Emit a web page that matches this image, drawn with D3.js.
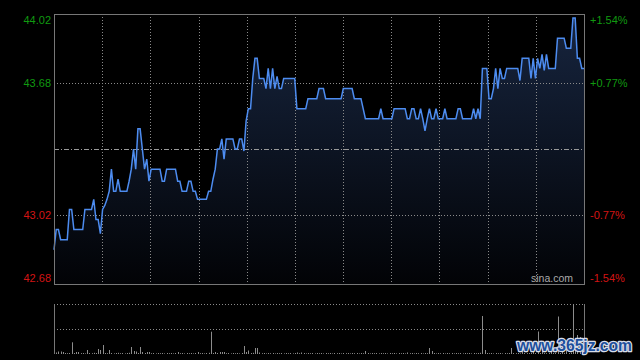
<!DOCTYPE html>
<html>
	<head>
		<meta charset="utf-8">
		<title></title>
		<style type="text/css">
			body{
				margin: 0;
				background-color: #000;
			}
			svg{
				display: block;
			}
		</style>
	</head>
	<body>
		<div id="chart"></div>
		<script src="https://d3js.org/d3.v7.min.js"></script>
		<script>
		// minute prices, 9:30 - 15:00 (241 points)
		let prices=[
			42.85,42.95,42.95,42.90,42.90,42.90,42.90,43.05,43.05,42.95,42.95,42.95,42.95,42.95,43.05,43.05,43.05,43.05,43.10,43.00,
			43.00,42.93,43.05,43.07,43.10,43.14,43.25,43.14,43.14,43.20,43.14,43.14,43.14,43.14,43.19,43.25,43.35,43.25,43.45,43.45,
			43.35,43.25,43.30,43.19,43.25,43.25,43.25,43.25,43.25,43.19,43.19,43.25,43.25,43.25,43.25,43.25,43.19,43.19,43.14,43.14,
			43.14,43.19,43.19,43.14,43.14,43.10,43.10,43.10,43.10,43.10,43.14,43.14,43.20,43.25,43.35,43.35,43.40,43.30,43.40,43.40,
			43.40,43.40,43.35,43.35,43.40,43.40,43.34,43.49,43.55,43.55,43.70,43.80,43.80,43.70,43.70,43.70,43.65,43.75,43.65,43.75,
			43.65,43.71,43.65,43.65,43.70,43.70,43.70,43.70,43.70,43.70,43.55,43.55,43.55,43.55,43.55,43.60,43.60,43.60,43.60,43.60,
			43.65,43.65,43.65,43.60,43.60,43.60,43.60,43.60,43.60,43.60,43.60,43.65,43.65,43.65,43.65,43.65,43.60,43.60,43.60,43.60,
			43.55,43.50,43.50,43.50,43.50,43.50,43.50,43.50,43.55,43.50,43.50,43.50,43.50,43.50,43.55,43.55,43.55,43.55,43.55,43.55,
			43.50,43.50,43.55,43.55,43.50,43.50,43.55,43.50,43.44,43.50,43.55,43.50,43.50,43.55,43.50,43.50,43.50,43.55,43.50,43.50,
			43.50,43.50,43.50,43.55,43.55,43.50,43.50,43.50,43.50,43.50,43.55,43.50,43.55,43.50,43.75,43.75,43.75,43.60,43.60,43.65,
			43.75,43.65,43.75,43.70,43.70,43.75,43.75,43.75,43.75,43.75,43.75,43.69,43.80,43.80,43.80,43.80,43.70,43.80,43.70,43.80,
			43.75,43.82,43.74,43.82,43.75,43.75,43.75,43.75,43.90,43.90,43.90,43.90,43.85,43.85,43.85,44.00,44.00,43.80,43.80,43.75,
			43.75
		];
		// minute volumes (lots)
		let volumes=[
			100,150,250,250,200,100,80,100,1170,100,200,200,90,100,60,400,100,80,120,100,
			500,400,900,100,80,400,100,60,100,120,80,100,60,100,120,700,300,250,100,700,
			200,100,200,200,80,100,60,100,80,100,60,100,80,100,60,100,200,80,100,60,
			100,80,100,60,100,200,80,100,60,100,120,2230,100,200,100,200,200,200,80,100,
			60,100,80,100,60,100,800,200,350,100,120,600,600,150,80,100,60,100,80,100,
			60,100,80,100,60,100,80,100,60,100,150,80,150,100,60,100,80,100,60,100,
			80,100,60,100,80,100,60,100,80,100,60,100,80,100,60,100,80,100,60,100,
			80,300,100,60,100,80,100,60,100,80,100,60,100,80,100,60,100,80,100,60,
			150,80,100,60,100,80,100,60,100,80,600,300,100,60,100,80,100,60,100,80,
			100,60,100,80,100,60,100,80,100,60,100,80,100,120,3800,400,100,80,100,60,
			100,80,100,60,100,80,100,600,100,80,100,60,500,100,80,100,120,800,100,2250,
			100,600,100,80,100,400,100,120,3750,100,600,120,500,100,150,5000,800,1900,1700,600,
			1200
		];
		let prevClose=43.35;
		let priceTicks=[44.02,43.68,43.02,42.68];
		let leftLabels=["44.02","43.68","43.02","42.68"];
		let rightLabels=["+1.54%","+0.77%","-0.77%","-1.54%"];

		let w=640,h=360;
		let pLeft=54,pRight=584,pTop=14,pBottom=284;
		let vTop=304,vBottom=354;

		let svg=d3.select("#chart").append("svg")
			.attr("width",w)
			.attr("height",h);

		let x=d3.scaleLinear().domain([0,prices.length-1]).range([pLeft,pRight]);
		let y=d3.scaleLinear().domain([42.68,44.02]).range([pBottom,pTop]);
		let yv=d3.scaleLinear().domain([0,d3.max(volumes)]).range([vBottom,vTop]);
		let gx=d3.scaleLinear().domain([0,11]).range([pLeft,pRight]);

		let grad=svg.append("defs").append("linearGradient")
			.attr("id","fillGrad")
			.attr("gradientUnits","userSpaceOnUse")
			.attr("x1",0).attr("y1",pTop).attr("x2",0).attr("y2",pBottom);
		grad.append("stop").attr("offset","0%").attr("stop-color","#17253f");
		grad.append("stop").attr("offset","100%").attr("stop-color","#020306");

		// area under price line
		let area=d3.area()
			.x(function(d,i){ return x(i); })
			.y0(pBottom)
			.y1(function(d){ return y(d); });
		svg.append("path")
			.datum(prices)
			.attr("d",area)
			.attr("fill","url(#fillGrad)");

		// grid
		svg.selectAll("line.vgrid")
			.data(d3.range(1,11))
			.enter()
			.append("line")
			.attr("class","vgrid")
			.attr("x1",function(d){ return Math.round(gx(d))+0.5; })
			.attr("x2",function(d){ return Math.round(gx(d))+0.5; })
			.attr("y1",pTop).attr("y2",pBottom)
			.attr("stroke","#8a8a8a")
			.attr("stroke-dasharray","1,2");
		svg.selectAll("line.hgrid")
			.data([43.68,43.02])
			.enter()
			.append("line")
			.attr("class","hgrid")
			.attr("x1",pLeft).attr("x2",pRight)
			.attr("y1",function(d){ return Math.round(y(d))+0.5; })
			.attr("y2",function(d){ return Math.round(y(d))+0.5; })
			.attr("stroke","#8a8a8a")
			.attr("stroke-dasharray","1,2");
		svg.append("line")
			.attr("x1",pLeft).attr("x2",pRight)
			.attr("y1",Math.round(y(prevClose))+0.5)
			.attr("y2",Math.round(y(prevClose))+0.5)
			.attr("stroke","#9a9a9a")
			.attr("stroke-dasharray","5,2,1,2");

		// price line
		let line=d3.line()
			.x(function(d,i){ return x(i); })
			.y(function(d){ return y(d); });
		svg.append("path")
			.datum(prices)
			.attr("d",line)
			.attr("fill","none")
			.attr("stroke","#4d8cf0")
			.attr("stroke-width",1.5);

		svg.append("rect")
			.attr("x",pLeft+0.5).attr("y",pTop+0.5)
			.attr("width",pRight-pLeft).attr("height",pBottom-pTop)
			.attr("fill","none")
			.attr("stroke","#777");

		// axis labels
		let lblY=function(i){
			let p=y(priceTicks[i]);
			if(i==0) return p+10;
			if(i==priceTicks.length-1) return p-2;
			return p+4;
		};
		let lblColor=function(i){ return priceTicks[i]>prevClose ? "#109a10" : "#d41414"; };
		svg.selectAll("text.left")
			.data(leftLabels)
			.enter()
			.append("text")
			.attr("class","left")
			.text(function(d){ return d; })
			.attr("x",51)
			.attr("y",function(d,i){ return lblY(i); })
			.attr("text-anchor","end")
			.attr("font-family","Liberation Sans, Arial, sans-serif")
			.attr("font-size","11px")
			.attr("fill",function(d,i){ return lblColor(i); });
		svg.selectAll("text.right")
			.data(rightLabels)
			.enter()
			.append("text")
			.attr("class","right")
			.text(function(d){ return d; })
			.attr("x",590)
			.attr("y",function(d,i){ return lblY(i); })
			.attr("font-family","Liberation Sans, Arial, sans-serif")
			.attr("font-size","11px")
			.attr("fill",function(d,i){ return lblColor(i); });

		svg.append("text")
			.text("sina.com")
			.attr("x",573).attr("y",282)
			.attr("text-anchor","end")
			.attr("font-family","Liberation Sans, Arial, sans-serif")
			.attr("font-size","10.5px")
			.attr("fill","#aaa");

		// volume panel
		svg.selectAll("line.vol")
			.data([vTop,(vTop+vBottom)/2])
			.enter()
			.append("line")
			.attr("class","vol")
			.attr("x1",pLeft).attr("x2",pRight)
			.attr("y1",function(d){ return Math.round(d)+0.5; })
			.attr("y2",function(d){ return Math.round(d)+0.5; })
			.attr("stroke","#8a8a8a")
			.attr("stroke-dasharray","1,2");
		svg.selectAll("rect.vbar")
			.data(volumes)
			.enter()
			.append("rect")
			.attr("class","vbar")
			.attr("x",function(d,i){ return Math.round(x(i)); })
			.attr("y",function(d){ return yv(d); })
			.attr("width",1)
			.attr("height",function(d){ return vBottom-yv(d); })
			.attr("fill","#8c8c8c");
		svg.append("line")
			.attr("x1",pLeft+0.5).attr("x2",pLeft+0.5)
			.attr("y1",vTop).attr("y2",vBottom)
			.attr("stroke","#777");
		svg.append("line")
			.attr("x1",pRight+0.5).attr("x2",pRight+0.5)
			.attr("y1",vTop).attr("y2",vBottom)
			.attr("stroke","#777");

		// watermark
		svg.append("text")
			.text("www.365jz.com")
			.attr("x",517).attr("y",351)
			.attr("textLength",115)
			.attr("lengthAdjust","spacingAndGlyphs")
			.attr("font-family","Liberation Sans, Arial, sans-serif")
			.attr("font-weight","bold")
			.attr("font-size","16px")
			.attr("fill","#1d4f9c")
			.attr("stroke","#d8dde8")
			.attr("stroke-width",2.5)
			.attr("paint-order","stroke")
			.attr("stroke-linejoin","round");
		</script>
	</body>
</html>
